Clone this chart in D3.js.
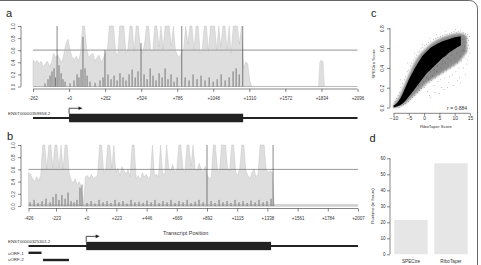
<!DOCTYPE html>
<html>
<head>
<meta charset="utf-8">
<script src="https://cdn.jsdelivr.net/npm/d3@7"></script>
<style>
  body { margin: 0; background: #fff; }
  svg { display: block; font-family: "Liberation Sans", Arial, Helvetica, sans-serif; }
</style>
</head>
<body>
<div id="fig"></div>
<script>
// ---------------- data ----------------

// panel a: transcript ENST00000359858.2
let ticksA = [-262, 0, 262, 524, 786, 1048, 1310, 1572, 1834, 2096];
let grayStartA = -262, grayStepA = 15;
let grayA = [.44,.40,.43,.38,.42,.32,.38,.42,.33,.40,
             .55,.48,.52,.45,.40,.55,.72,.78,.60,.48,
             .45,.50,.42,.55,1,1,.62,.48,.52,.55,
             .42,.48,.52,.40,.46,.55,.60,1,1,1,
             .58,.50,1,1,1,.55,.62,1,1,.58,
             1,1,.65,.55,.70,1,1,.60,.58,1,
             1,.65,1,.62,1,1,1,.66,1,.60,
             .52,.48,.58,.62,1,.70,1,1,.60,1,
             1,.55,.62,1,1,.58,1,1,1,.60,
             1,.65,1,1,.60,1,.55,1,1,1,
             .70,1,.30,.41,.38,.10,0];
let grayBumpA = [[1812,0],[1822,.40],[1834,.44],[1846,.41],[1856,0]];
let blackA = [[-175,.05],[-153,.12],[-138,.18],[-124,.25],[-109,.30],[-98,.15],[-87,1],[-73,.35],
              [-58,.22],[-44,.12],[-29,.08],[7,.05],[36,.10],[58,.20],[72,.15],[87,.28],[101,.82],
              [116,.30],[131,.18],[152,.08],[189,.06],[225,.10],[247,.15],[261,.60],[283,.20],
              [305,.12],[327,.18],[349,.10],[370,.22],[392,.15],[414,.10],[436,.20],[458,.28],
              [480,.15],[501,.25],[523,.72],[545,.20],[567,.12],[589,.30],[610,.18],[632,.10],
              [654,.22],[676,.15],[698,.30],[719,.12],[741,.20],[763,.08],[785,.15],[819,1],
              [843,.15],[872,.10],[901,.20],[930,.12],[959,.18],[988,.10],[1018,.15],[1047,.08],
              [1076,.12],[1105,.20],[1134,.10],[1163,.15],[1192,.25],[1214,.30],[1236,.20],[1262,1]];
let txA = {name: "ENST00000359858.2", start: -262, end: 2096, cds: [0, 1265]};

// panel b: transcript ENST00000325301.2
let ticksB = [-426, -223, 0, 223, 446, 669, 892, 1115, 1338, 1561, 1784, 2007];
let grayStartB = -426, grayStepB = 15;
let grayB = [.55,.52,.45,.40,.48,.42,.50,1,1,.60,
             1,1,.62,1,1,.62,1,.60,1,1,
             .55,.42,.38,.45,.35,.40,.30,.02,.48,.50,
             .45,.52,.44,.48,.50,1,1,.55,.60,1,
             1,.62,1,.55,.62,.50,.65,.58,.52,.60,
             .48,1,1,.45,.50,.42,.55,.48,.52,.45,
             .50,1,.50,.52,.48,1,.55,.50,1,.62,
             .58,.68,.55,.60,1,1,.62,.55,1,1,
             .65,1,.62,.58,.70,.60,.55,.65,.50,.45,
             .48,1,1,.60,.55,1,1,1,.62,.58,
             1,1,.55,.50,.62,1,1,.58,.50,.45,
             .55,.60,.48,.52,1,1,1,.60,.55,.58,
             .55,0];
let blackB = [[-415,.06],[-385,.10],[-356,.05],[-326,.08],[-297,.12],[-267,.06],[-245,.15],[-223,.20],
              [-201,.10],[-179,.18],[-156,.12],[-134,.22],[-112,.08],[-90,.06],[-68,.10],[-46,.30],
              [-31,.35],[6,.05],[36,.08],[65,.04],[95,.10],[124,.06],[154,.08],[183,.05],[213,.10],
              [242,.06],[272,.08],[301,.04],[331,.10],[360,.06],[390,.07],[420,.05],[449,.09],
              [479,.06],[508,.10],[538,.05],[567,.08],[597,.06],[626,.10],[656,.05],[685,.08],
              [715,.06],[745,.10],[774,.05],[804,.07],[833,.10],[863,.06],[892,1],[922,.08],
              [951,.05],[981,.10],[1010,.06],[1040,.08],[1069,.05],[1099,.10],[1128,.06],[1158,.08],
              [1188,.05],[1217,.09],[1247,.06],[1276,.10],[1306,.06],[1335,.08],[1365,.12],[1380,1]];
let txB = {name: "ENST00000325301.2", start: -426, end: 2007, cds: [0, 1365]};
let uorfs = [["uORF-1", -426, -330], ["uORF-2", -319, -127]];

// panel c: SPECtre vs RiboTaper scores
let ticksCx = [-10, -5, 0, 5, 10, 15];
let ticksCy = [0, 0.2, 0.4, 0.6, 0.8];
// dense part of the cloud: [RiboTaper, low, high]
let coreBand = [[-10,0,.02],[-9,.01,.04],[-8,.02,.08],[-7,.04,.14],[-6,.07,.21],[-5,.11,.28],
                [-4,.15,.34],[-3,.19,.40],[-2,.23,.45],[-1,.27,.50],[0,.31,.54],[1,.35,.57],
                [2,.38,.60],[3,.41,.62],[4,.44,.64],[5,.47,.655],[6,.50,.67],[7,.52,.68],
                [8,.55,.69],[9,.57,.70],[10,.59,.71],[11,.61,.715],[12,.63,.72]];
// thinner spread round it
let haloBand = [[-10,-.005,.03],[-9,0,.07],[-8,.01,.12],[-7,.025,.19],[-6,.04,.26],[-5,.07,.33],
                [-4,.10,.40],[-3,.13,.46],[-2,.16,.51],[-1,.19,.55],[0,.22,.58],[1,.25,.61],
                [2,.27,.64],[3,.29,.66],[4,.31,.68],[5,.33,.695],[6,.35,.71],[7,.37,.72],
                [8,.39,.73],[9,.41,.74],[10,.43,.745],[11,.45,.75],[12,.48,.75],[13,.52,.74],[14,.56,.72]];
let sparsePts = [[-9.5,.06],[-9,.09],[-8.5,.12],[-8,.15],[-7.6,.20],[-7,.24],[-6.5,.28],[-6,.31],
                 [-5.5,.36],[-5,.38],[-4.4,.42],[-4,.45],[-3.5,.48],[-3,.50],[-2.4,.53],[-2,.56],
                 [-1.5,.57],[-1,.60],[-.4,.61],[.2,.63],[.8,.64],[1.5,.66],[2.2,.67],[3,.69],
                 [3.8,.70],[4.5,.71],[5.3,.72],[6,.73],[6.8,.74],[7.5,.74],[8.3,.75],[9,.76],
                 [9.8,.77],[10.5,.76],[11.3,.77],[12,.78],[12.8,.76],[13.5,.75],[14.2,.74],[14.8,.72],
                 [13,.73],[14,.70],[12.5,.69],[13.8,.66],[14.6,.68],
                 [-9.8,0],[-9.2,.005],[-8.7,.01],[-8.2,0],[-7.5,.02],[-6.8,.03],[-6,.04],[-5.2,.06],
                 [-4.5,.08],[-3.8,.10],[-3,.12],[-2.2,.15],[-1.5,.17],[-.8,.19],[0,.20],[.6,.22],
                 [1.2,.16],[1.8,.25],[2.5,.27],[3.2,.22],[3.8,.30],[4.5,.26],[5,.33],[5.6,.20],
                 [6.2,.35],[6.8,.30],[7.4,.38],[8,.25],[8.6,.40],[9.2,.33],[9.8,.42],[10.4,.36],
                 [11,.45],[11.6,.30],[12.2,.47],[12.8,.40],[13.4,.50],[14,.44],[14.6,.52],[15,.55],
                 [11.8,.52],[10,.50],[13,.58],[14.2,.60],[8.8,.48],[7,.45],[5.5,.40],[4,.36],
                 [2.8,.32],[1.5,.28],[3.5,.15],[6.5,.18],[9.5,.22],[12,.25],[2,.10],
                 [.3,.45],[1.1,.38],[-1.2,.33],[-2.6,.28],[-4.2,.22],[-5.6,.14],[-6.4,.18],[-7.3,.09],
                 [2.4,.50],[3.6,.44],[4.8,.52],[6.1,.47],[7.3,.55],[8.4,.58],[9.6,.61],[10.8,.63],
                 [11.9,.64],[13.2,.62],[14.4,.63],[.9,.30],[2.1,.36],[3.3,.38],[4.3,.42],[5.9,.44],
                 [7.8,.50],[9.1,.53],[10.7,.55],[12.4,.57],[13.9,.57],[14.9,.60],[1.7,.12],[4.9,.14],
                 [7.7,.20],[10.9,.27],[13.6,.33],[8.3,.31],[5.3,.28],[11.4,.40],[14.3,.48],[-.3,.26],
                 [-1.9,.22],[-3.4,.17],[-.6,.64],[1.9,.70],[4.1,.74],[7.1,.77],[10.2,.79],[-3.2,.55],
                 [-5.3,.45],[-7.7,.28]];
let rLabel = "r = 0.884";

// panel d: runtime
let tools = ["SPECtre", "RiboTaper"];
let runtimes = [21.4, 56.9];
let ticksD = [0, 10, 20, 30, 40, 50, 60];

// ---------------- drawing ----------------

let svg = d3.select("#fig").append("svg")
  .attr("width", 481)
  .attr("height", 265);

let ink = "#333";

// soft edge for the scatter cloud
let defs = svg.append("defs");
defs.append("filter").attr("id", "fuzz").attr("x", "-20%").attr("y", "-20%")
  .attr("width", "140%").attr("height", "140%")
  .append("feGaussianBlur").attr("stdDeviation", 1.3);
defs.append("filter").attr("id", "fuzz2")
  .append("feGaussianBlur").attr("stdDeviation", 0.5);

// frame round the whole figure
svg.append("rect")
  .attr("x", -10).attr("y", 0.5)
  .attr("width", 487.5).attr("height", 300)
  .attr("rx", 8)
  .attr("fill", "none")
  .attr("stroke", "#666");

function panelLabel(t, x, y) {
  svg.append("text").attr("x", x).attr("y", y)
    .attr("font-size", 11).attr("fill", "#222").text(t);
}

function fmtPos(v) { return v < 0 ? String(v) : "+" + v; }

// bottom axis, line only between first and last tick (R style)
function bottomAxis(x, y, vals, fmt, size, tick, pad) {
  let ax = svg.append("g").attr("transform", "translate(0," + y + ")")
    .call(d3.axisBottom(x).tickValues(vals).tickFormat(fmt).tickSize(tick).tickSizeOuter(0).tickPadding(pad));
  ax.select(".domain").remove();
  ax.append("line").attr("x1", x(vals[0])).attr("x2", x(vals[vals.length - 1]));
  ax.selectAll("line").attr("stroke", ink).attr("stroke-width", 0.6);
  ax.selectAll("text").attr("font-size", size).attr("fill", ink).attr("font-family", null);
  return ax;
}

// left axis with labels turned -90
function leftAxisRot(y, x0, vals, fmt, size, off) {
  let ax = svg.append("g").attr("transform", "translate(" + x0 + ",0)")
    .call(d3.axisLeft(y).tickValues(vals).tickFormat(fmt).tickSize(3).tickSizeOuter(0));
  ax.select(".domain").remove();
  ax.append("line").attr("y1", y(vals[0])).attr("y2", y(vals[vals.length - 1]));
  ax.selectAll("line").attr("stroke", ink).attr("stroke-width", 0.6);
  ax.selectAll(".tick text")
    .attr("transform", "rotate(-90)")
    .attr("x", 0).attr("y", -off).attr("dy", 0)
    .attr("text-anchor", "middle")
    .attr("font-size", size).attr("fill", ink);
  return ax;
}

function coverage(x, y, start, step, vals, bump, blacks, thrColor, thrWidth, x0, x1) {
  let area = d3.area()
    .x(function(d, i) { return x(start + i * step); })
    .y0(y(0))
    .y1(function(d) { return y(Math.min(d, 1)); });

  svg.append("path").datum(vals).attr("d", area)
    .attr("fill", "#dedede").attr("stroke", "#b8b8b8").attr("stroke-width", 0.35);

  if (bump) {
    let a2 = d3.area().x(function(d) { return x(d[0]); }).y0(y(0)).y1(function(d) { return y(d[1]); });
    svg.append("path").datum(bump).attr("d", a2)
      .attr("fill", "#dedede").attr("stroke", "#c4c4c4").attr("stroke-width", 0.35);
  }

  // zero line and 0.6 threshold
  svg.append("line").attr("x1", x0).attr("x2", x1).attr("y1", y(0)).attr("y2", y(0))
    .attr("stroke", "#aaa").attr("stroke-width", 0.8);
  svg.append("line").attr("x1", x0).attr("x2", x1).attr("y1", y(0.6)).attr("y2", y(0.6))
    .attr("stroke", thrColor).attr("stroke-width", thrWidth);

  svg.append("g").selectAll("line").data(blacks).enter().append("line")
    .attr("x1", function(d) { return x(d[0]); })
    .attr("x2", function(d) { return x(d[0]); })
    .attr("y1", y(0))
    .attr("y2", function(d) { return y(d[1]); })
    .attr("stroke", "#111")
    .attr("stroke-width", 0.5);
}

function transcript(x, tx, yMid, h) {
  svg.append("text").attr("x", 8).attr("y", yMid - 3.5)
    .attr("font-size", 4.4).attr("fill", ink).text(tx.name);
  svg.append("line").attr("x1", x(tx.start)).attr("x2", x(tx.end))
    .attr("y1", yMid).attr("y2", yMid)
    .attr("stroke", "#222").attr("stroke-width", 2);
  svg.append("rect").attr("x", x(tx.cds[0])).attr("y", yMid - h / 2)
    .attr("width", x(tx.cds[1]) - x(tx.cds[0])).attr("height", h)
    .attr("fill", "#222");
  // start arrow
  let ax = x(tx.cds[0]), top = yMid - h / 2, ay = top - 5.5;
  svg.append("path").attr("d", "M" + ax + "," + top + "V" + ay + "H" + (ax + 10))
    .attr("fill", "none").attr("stroke", "#222").attr("stroke-width", 0.8);
  svg.append("path")
    .attr("d", "M" + (ax + 9.5) + "," + (ay - 1.8) + "L" + (ax + 13.5) + "," + ay + "L" + (ax + 9.5) + "," + (ay + 1.8) + "Z")
    .attr("fill", "#222");
}

///////////////////
// panel a
///////////////////

let xA = d3.scaleLinear().domain([-262, 2096]).range([33, 357.5]);
let yA = d3.scaleLinear().domain([0, 1]).range([86.5, 26]);

panelLabel("a", 6, 16.7);
coverage(xA, yA, grayStartA, grayStepA, grayA, grayBumpA, blackA, "#aaa", 1.2, 33, 357.5);
leftAxisRot(yA, 21, [0, .2, .4, .6, .8, 1], d3.format(".1f"), 4.5, 6.4);
bottomAxis(xA, 89, ticksA, fmtPos, 4.5, 3, 5);
transcript(xA, txA, 118, 8.5);

///////////////////
// panel b
///////////////////

let xB = d3.scaleLinear().domain([-426, 2007]).range([28.5, 358]);
let yB = d3.scaleLinear().domain([0, 1]).range([206, 145]);

panelLabel("b", 7, 140);
coverage(xB, yB, grayStartB, grayStepB, grayB, null, blackB, "#555", 0.6, 28.5, 358);
svg.append("line").attr("x1", 28.5).attr("x2", 358).attr("y1", 204.8).attr("y2", 204.8)
  .attr("stroke", "#999").attr("stroke-width", 0.6);
leftAxisRot(yB, 21, [0, .2, .4, .6, .8, 1], d3.format(".1f"), 4.5, 6.4);
bottomAxis(xB, 208.5, ticksB, fmtPos, 4.5, 3, 5.5);

svg.append("text").attr("x", 163).attr("y", 235)
  .attr("font-size", 5.5).attr("fill", ink).text("Transcript Position");

transcript(xB, txB, 246, 8.3);

svg.append("g").selectAll("text").data(uorfs).enter().append("text")
  .attr("x", 8).attr("y", function(d, i) { return 254.8 + i * 6; })
  .attr("font-size", 4.4).attr("fill", ink)
  .text(function(d) { return d[0]; });
svg.append("g").selectAll("rect").data(uorfs).enter().append("rect")
  .attr("x", function(d) { return xB(d[1]); })
  .attr("y", function(d, i) { return 251.6 + i * 7.2; })
  .attr("width", function(d) { return xB(d[2]) - xB(d[1]); })
  .attr("height", 2.4)
  .attr("fill", "#222");

///////////////////
// panel c
///////////////////

let xC = d3.scaleLinear().domain([-10, 15]).range([393.5, 470]);
let yC = d3.scaleLinear().domain([0, 0.8]).range([107.5, 28.3]);

panelLabel("c", 371, 17.3);

let band = d3.area()
  .curve(d3.curveMonotoneX)
  .x(function(d) { return xC(d[0]); })
  .y0(function(d) { return yC(d[1]); })
  .y1(function(d) { return yC(d[2]); });

svg.append("path").datum(haloBand).attr("d", band)
  .attr("fill", "#000").attr("opacity", 0.45).attr("filter", "url(#fuzz)");
svg.append("path").datum(coreBand).attr("d", band)
  .attr("fill", "#000").attr("filter", "url(#fuzz2)");

svg.append("g").selectAll("circle").data(sparsePts).enter().append("circle")
  .attr("cx", function(d) { return xC(d[0]); })
  .attr("cy", function(d) { return yC(d[1]); })
  .attr("r", 0.35)
  .attr("fill", "#000")
  .attr("opacity", 0.75);

leftAxisRot(yC, 390, ticksCy, d3.format(".1f"), 5, 6.5);
bottomAxis(xC, 113.3, ticksCx, d3.format("d"), 5, 2.5, 1);

svg.append("text").attr("transform", "translate(374.5,64) rotate(-90)")
  .attr("text-anchor", "middle").attr("font-size", 4.3).attr("fill", ink).text("SPECtre Score");
svg.append("text").attr("x", 436).attr("y", 128).attr("text-anchor", "middle")
  .attr("font-size", 4.3).attr("fill", ink).text("RiboTaper Score");
svg.append("text").attr("x", 467).attr("y", 109.5).attr("text-anchor", "end")
  .attr("font-size", 5).attr("fill", ink).text(rLabel);

///////////////////
// panel d
///////////////////

let xD = d3.scaleBand().domain(tools).range([394.3, 467.7]).paddingInner(0.165);
let yD = d3.scaleLinear().domain([0, 60]).range([254.3, 158.3]);

panelLabel("d", 369.5, 141.7);

svg.append("g").selectAll("rect").data(tools).enter().append("rect")
  .attr("x", function(d) { return xD(d); })
  .attr("y", function(d, i) { return yD(runtimes[i]); })
  .attr("width", xD.bandwidth())
  .attr("height", function(d, i) { return yD(0) - yD(runtimes[i]); })
  .attr("fill", "#e6e6e6");

let axD = svg.append("g").attr("transform", "translate(390,0)")
  .call(d3.axisLeft(yD).tickValues(ticksD).tickSize(3).tickSizeOuter(0).tickPadding(1.5));
axD.select(".domain").remove();
axD.append("line").attr("y1", yD(0)).attr("y2", yD(60));
axD.selectAll("line").attr("stroke", ink).attr("stroke-width", 0.6);
axD.selectAll("text").attr("font-size", 4.5).attr("fill", ink);

svg.append("g").selectAll("text").data(tools).enter().append("text")
  .attr("x", function(d) { return xD(d) + xD.bandwidth() / 2; })
  .attr("y", 262.5)
  .attr("text-anchor", "middle")
  .attr("font-size", 4.7).attr("fill", ink)
  .text(function(d) { return d; });

svg.append("text").attr("transform", "translate(374,206) rotate(-90)")
  .attr("text-anchor", "middle").attr("font-size", 4.3).attr("fill", ink).text("Runtime (in hours)");
</script>
</body>
</html>
